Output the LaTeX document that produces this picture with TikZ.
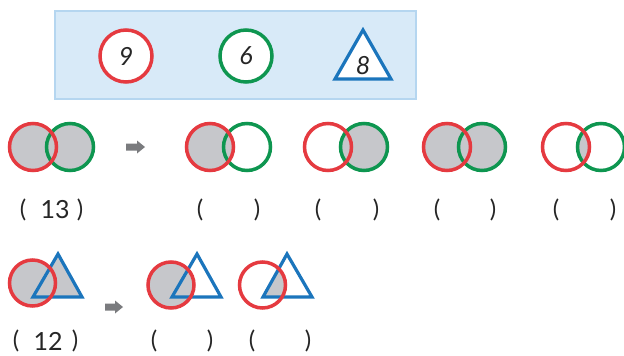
\documentclass[tikz,border=0pt]{standalone}
\usepackage{fontspec}
\setmainfont{Lato}
\definecolor{cred}{HTML}{E53A40}
\definecolor{cgreen}{HTML}{0E9650}
\definecolor{cblue}{HTML}{1B75BC}
\definecolor{cgray}{HTML}{C6C7CB}
\definecolor{carrow}{HTML}{7A7B7E}
\definecolor{boxfill}{HTML}{D8EAF8}
\definecolor{boxline}{HTML}{B5D6F0}
\begin{document}
\begin{tikzpicture}[x=1pt,y=-1pt,
  redc/.style={draw=cred,line width=3.5pt},
  greenc/.style={draw=cgreen,line width=3.5pt},
  bluet/.style={draw=cblue,line width=3.2pt,line join=miter},
  shaded/.style={fill=cgray},
  lbl/.style={font=\fontsize{24}{24}\selectfont,inner sep=0pt,text=black!85},
  num/.style={font=\fontsize{25}{25}\itshape\selectfont,inner sep=0pt,text=black!85},
  ans/.style={font=\fontsize{25}{25}\selectfont,inner sep=0pt,text=black!85},
  blockarrow/.style={fill=carrow,draw=none}]
\useasboundingbox (0,0) rectangle (624,356);
\fill[white] (0,0) rectangle (624,356);
% legend box
\draw[fill=boxfill,draw=boxline,line width=1.2pt] (55,11) rectangle (416,99);
\draw[redc,fill=white] (126,56) circle (26);
\node[num] (n9) at (126,56) {9};
\draw[greenc,fill=white] (246,56) circle (26);
\node[num] (n6) at (246,56) {6};
\draw[bluet,fill=white] (363,30) -- (391,79) -- (335,79) -- cycle;
\node[num] (n8) at (363,66) {8};
% row 1
\def\R{23.5}
% P1 union
\fill[shaded] (33,147) circle (\R); \fill[shaded] (70,147) circle (\R);
\draw[greenc] (70,147) circle (\R); \draw[redc] (33,147) circle (\R);
\fill[blockarrow] (126,143.5) -- (137,143.5) -- (137,140.5) -- (145,147) -- (137,153.5) -- (137,150.5) -- (126,150.5) -- cycle;
% P2 red only
\fill[shaded] (210,147) circle (\R);
\draw[greenc] (247,147) circle (\R); \draw[redc] (210,147) circle (\R);
% P3 green only
\fill[shaded] (364,147) circle (\R);
\draw[greenc] (364,147) circle (\R); \draw[redc] (328,147) circle (\R);
% P4 union
\fill[shaded] (447,147) circle (\R); \fill[shaded] (482,147) circle (\R);
\draw[greenc] (482,147) circle (\R); \draw[redc] (447,147) circle (\R);
% P5 intersection
\begin{scope}\clip (566,147) circle (\R); \fill[shaded] (601,147) circle (\R);\end{scope}
\draw[greenc] (601,147) circle (\R); \draw[redc] (566,147) circle (\R);
% row 1 labels
\node[lbl] (l1a) at (23,210) {(}; \node[ans] (l1n) at (55,210) {13}; \node[lbl] (l1b) at (80,210) {)};
\node[lbl] (l2a) at (200,210) {(}; \node[lbl] (l2b) at (257,210) {)};
\node[lbl] (l3a) at (318,210) {(}; \node[lbl] (l3b) at (376,210) {)};
\node[lbl] (l4a) at (437,210) {(}; \node[lbl] (l4b) at (493,210) {)};
\node[lbl] (l5a) at (556,210) {(}; \node[lbl] (l5b) at (613,210) {)};
% row 2
\def\S{23}
% R1 union
\fill[shaded] (32.5,283) circle (\S); \fill[shaded] (58,254) -- (82,297) -- (33,297) -- cycle;
\draw[bluet] (58,254) -- (82,297) -- (33,297) -- cycle;
\draw[redc] (32.5,283) circle (\S);
\fill[blockarrow] (105,303.5) -- (115,303.5) -- (115,300.5) -- (123,307) -- (115,313.5) -- (115,310.5) -- (105,310.5) -- cycle;
% R2 circle only
\fill[shaded] (171,285) circle (\S);
\draw[bluet] (197,254) -- (221,297) -- (172,297) -- cycle;
\draw[redc] (171,285) circle (\S);
% R3 intersection
\begin{scope}\clip (262.5,285) circle (\S); \fill[shaded] (287,254) -- (312,297) -- (263,297) -- cycle;\end{scope}
\draw[bluet] (287,254) -- (312,297) -- (263,297) -- cycle;
\draw[redc] (262.5,285) circle (\S);
% row 2 labels
\node[lbl] (m1a) at (16,341) {(}; \node[ans] (m1n) at (48,341) {12}; \node[lbl] (m1b) at (75,341) {)};
\node[lbl] (m2a) at (154,341) {(}; \node[lbl] (m2b) at (210,341) {)};
\node[lbl] (m3a) at (252,341) {(}; \node[lbl] (m3b) at (308,341) {)};
\end{tikzpicture}
\end{document}
